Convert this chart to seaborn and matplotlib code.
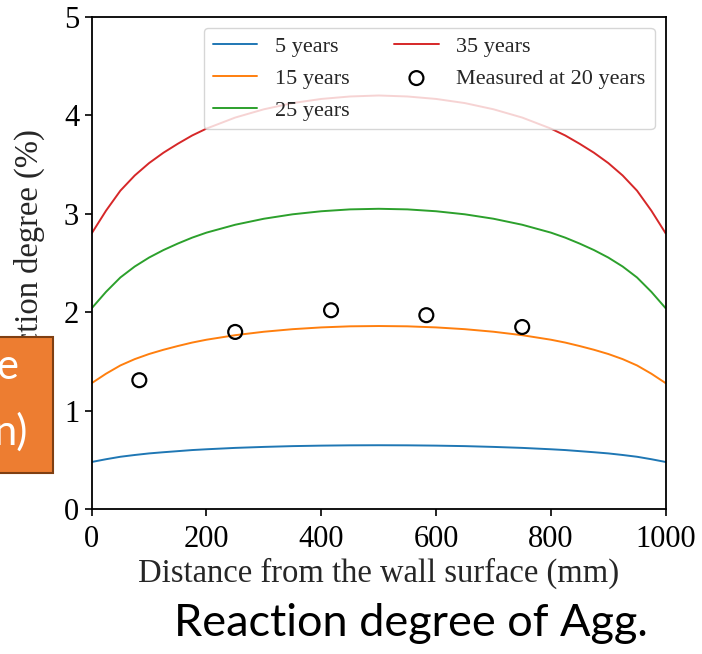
import matplotlib
matplotlib.use("Agg")
import matplotlib.pyplot as plt
from matplotlib.patches import Rectangle
import pandas as pd
import seaborn as sns

# Distance from the wall surface (mm)
distance = [0, 25, 50, 75, 100, 125, 150, 175, 200, 250, 300, 350, 400, 450, 500,
            550, 600, 650, 700, 750, 800, 825, 850, 875, 900, 925, 950, 975, 1000]

# Simulated reaction degree of aggregate (%) after each exposure period
deg_5y = [0.480, 0.508, 0.533, 0.551, 0.567, 0.579, 0.590, 0.601, 0.609, 0.623, 0.633, 0.641, 0.646, 0.649, 0.650,
          0.649, 0.646, 0.641, 0.633, 0.623, 0.609, 0.601, 0.590, 0.579, 0.567, 0.551, 0.533, 0.508, 0.480]
deg_15y = [1.280, 1.376, 1.460, 1.524, 1.576, 1.619, 1.657, 1.692, 1.721, 1.767, 1.802, 1.828, 1.846, 1.857, 1.860,
           1.857, 1.846, 1.828, 1.802, 1.767, 1.721, 1.692, 1.657, 1.619, 1.576, 1.524, 1.460, 1.376, 1.280]
deg_25y = [2.040, 2.207, 2.353, 2.464, 2.555, 2.631, 2.697, 2.757, 2.808, 2.888, 2.949, 2.994, 3.025, 3.044, 3.050,
           3.044, 3.025, 2.994, 2.949, 2.888, 2.808, 2.757, 2.697, 2.631, 2.555, 2.464, 2.353, 2.207, 2.040]
deg_35y = [2.800, 3.031, 3.234, 3.388, 3.514, 3.619, 3.710, 3.794, 3.864, 3.976, 4.060, 4.123, 4.165, 4.190, 4.200,
           4.190, 4.165, 4.123, 4.060, 3.976, 3.864, 3.794, 3.710, 3.619, 3.514, 3.388, 3.234, 3.031, 2.800]

series_labels = ["5 years", "15 years", "25 years", "35 years"]
series_colors = ["#1f77b4", "#ff7f0e", "#2ca02c", "#d62728"]

# Core measurements taken at 20 years
meas_distance = [83, 250, 417, 583, 750]
meas_degree = [1.31, 1.80, 2.02, 1.97, 1.85]

x_ticks = [0, 200, 400, 600, 800, 1000]
y_ticks = [0, 1, 2, 3, 4, 5]

sns.set_theme(style="ticks")
plt.rcParams["font.family"] = ["Liberation Serif", "DejaVu Serif"]
plt.rcParams["axes.edgecolor"] = "black"
plt.rcParams["xtick.color"] = "black"
plt.rcParams["ytick.color"] = "black"

fig = plt.figure(figsize=(7.02, 6.54), dpi=100)
ax = fig.add_axes([0.1306, 0.2213, 0.8177, 0.7532])

curves = pd.DataFrame({
    "distance": distance * 4,
    "degree": deg_5y + deg_15y + deg_25y + deg_35y,
    "period": sum([[lab] * len(distance) for lab in series_labels], []),
})
for lab, col in zip(series_labels, series_colors):
    sub = curves[curves["period"] == lab]
    sns.lineplot(data=sub, x="distance", y="degree", color=col, lw=1.4,
                 label=lab, ax=ax, sort=False)

meas = pd.DataFrame({"distance": meas_distance, "degree": meas_degree})
sns.scatterplot(data=meas, x="distance", y="degree", ax=ax, s=100,
                facecolor="none", edgecolor="black", linewidth=1.6,
                label="Measured at 20 years", zorder=5)

ax.set_xlim(0, 1000)
ax.set_ylim(0, 5)
ax.set_xticks(x_ticks)
ax.set_yticks(y_ticks)
ax.tick_params(labelsize=22, length=5, width=1.2)
ax.tick_params(axis="x", pad=6)
ax.tick_params(axis="y", pad=4)
for sp in ax.spines.values():
    sp.set_visible(True)
    sp.set_linewidth(1.3)

ax.set_xlabel("Distance from the wall surface (mm)", fontsize=23.5, labelpad=3)
ax.set_ylabel("Reaction degree (%)", fontsize=23.5)
ax.yaxis.set_label_coords(-0.081, 0.5)

handles, labels = ax.get_legend_handles_labels()
leg = ax.legend(handles, labels, ncol=2, loc="upper right", fontsize=16,
                frameon=True, framealpha=0.8, edgecolor="#cccccc",
                handlelength=2.0, columnspacing=2.0, borderaxespad=0.5,
                handletextpad=0.8, labelspacing=0.5)

# Slide overlay: callout box partly outside the figure, plus caption
box = Rectangle((-0.05, 1 - 473 / 654), 0.05 + 52.7 / 702, (473 - 336.7) / 654,
                transform=fig.transFigure, facecolor="#ED7D31",
                edgecolor="#7f3f12", linewidth=1.5, zorder=10)
fig.add_artist(box)
fig.text(18 / 702, 1 - 367 / 654, "e", transform=fig.transFigure, ha="right",
         va="center", color="white", fontsize=30, family=["Lato", "DejaVu Sans"], zorder=11)
fig.text(27 / 702, 1 - 432 / 654, "n)", transform=fig.transFigure, ha="right",
         va="center", color="white", fontsize=30, family=["Lato", "DejaVu Sans"], zorder=11)

fig.text(411 / 702, 1 - 624 / 654, "Reaction degree of Agg.", ha="center",
         va="center", color="black", fontsize=32.5, family=["Lato", "DejaVu Sans"])

fig.savefig("out.png", dpi=100)
